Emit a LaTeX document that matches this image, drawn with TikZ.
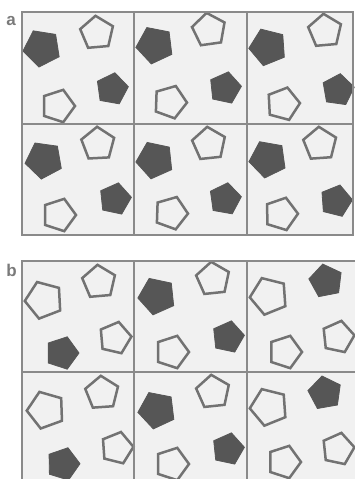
\documentclass[tikz,border=0pt]{standalone}
\usepackage{fontspec}
\newfontfamily\labfont{Liberation Sans}
\usetikzlibrary{shapes.geometric}
\definecolor{bgc}{HTML}{F1F1F1}
\definecolor{gridc}{HTML}{8A8A8A}
\definecolor{fillc}{HTML}{565656}
\definecolor{outc}{HTML}{727272}
\definecolor{labc}{HTML}{7A7A7A}
\tikzset{
  pent/.style={regular polygon, regular polygon sides=5, inner sep=0pt, outer sep=0pt},
  fp/.style={pent, fill=fillc, draw=fillc, line width=0.8pt},
  op/.style={pent, draw=outc, line width=2.5pt, fill=bgc},
  grid/.style={draw=gridc, line width=2pt},
  lab/.style={anchor=base, text=labc, font=\labfont\bfseries\fontsize{17}{17}\selectfont, inner sep=0pt},
  L/.style={minimum size=38.5pt},
  T/.style={minimum size=34.5pt},
  R/.style={minimum size=33pt},
  B/.style={minimum size=34pt}
}
\begin{document}
\begin{tikzpicture}[x=1pt,y=-1pt]
\useasboundingbox (0,0) rectangle (355,479);
\clip (0,0) rectangle (355,479);
% panel backgrounds
\fill[bgc] (22,12) rectangle (353,235);
\fill[bgc] (22,260.5) rectangle (362,490);
% labels
\node[lab] (la) at (11,25) {a};
\node[lab] (lb) at (11.5,276) {b};
% panel a pentagons
\node[fp,L,shape border rotate=27] (a1l) at (42,48) {};
\node[op,T,shape border rotate=5] (a1t) at (97,33) {};
\node[fp,R,shape border rotate=-10] (a1r) at (112,89) {};
\node[op,B,shape border rotate=-18] (a1b) at (58,106) {};
\node[fp,L,shape border rotate=25] (a2l) at (155,45) {};
\node[op,T,shape border rotate=8] (a2t) at (209,30) {};
\node[fp,R,shape border rotate=-12] (a2r) at (225,88) {};
\node[op,B,shape border rotate=-20] (a2b) at (170,102) {};
\node[fp,L,shape border rotate=22] (a3l) at (268,47) {};
\node[op,T,shape border rotate=5] (a3t) at (325,31) {};
\node[fp,R,shape border rotate=-8] (a3r) at (338,90) {};
\node[op,B,shape border rotate=-15] (a3b) at (283,104) {};
\node[fp,L,shape border rotate=28] (a4l) at (44,160) {};
\node[op,T,shape border rotate=3] (a4t) at (98,144) {};
\node[fp,R,shape border rotate=-12] (a4r) at (115,199) {};
\node[op,B,shape border rotate=-18] (a4b) at (59,215) {};
\node[fp,L,shape border rotate=24] (a5l) at (155,160) {};
\node[op,T,shape border rotate=6] (a5t) at (209,144) {};
\node[fp,R,shape border rotate=-10] (a5r) at (225,199) {};
\node[op,B,shape border rotate=-20] (a5b) at (171,213) {};
\node[fp,L,shape border rotate=26] (a6l) at (268,159) {};
\node[op,T,shape border rotate=4] (a6t) at (320,144) {};
\node[fp,R,shape border rotate=-14] (a6r) at (336,201) {};
\node[op,B,shape border rotate=-17] (a6b) at (281,214) {};
% panel b pentagons
\node[op,L,shape border rotate=21] (b1l) at (44,300) {};
\node[op,T,shape border rotate=5] (b1t) at (99,282) {};
\node[op,R,shape border rotate=-13] (b1r) at (115,338) {};
\node[fp,B,shape border rotate=-18] (b1b) at (62,353) {};
\node[fp,L,shape border rotate=24] (b2l) at (157,296) {};
\node[op,T,shape border rotate=6] (b2t) at (213,279) {};
\node[fp,R,shape border rotate=-12] (b2r) at (228,337) {};
\node[op,B,shape border rotate=-18] (b2b) at (172,352) {};
\node[op,L,shape border rotate=22] (b3l) at (269,296) {};
\node[fp,T,shape border rotate=11] (b3t) at (326,281) {};
\node[op,R,shape border rotate=-12] (b3r) at (338,337) {};
\node[op,B,shape border rotate=-18] (b3b) at (285,352) {};
\node[op,L,shape border rotate=20] (b4l) at (46,410) {};
\node[op,T,shape border rotate=4] (b4t) at (102,393) {};
\node[op,R,shape border rotate=-14] (b4r) at (117,448) {};
\node[fp,B,shape border rotate=-17] (b4b) at (63,464) {};
\node[fp,L,shape border rotate=25] (b5l) at (157,410) {};
\node[op,T,shape border rotate=6] (b5t) at (213,392) {};
\node[fp,R,shape border rotate=-12] (b5r) at (228,449) {};
\node[op,B,shape border rotate=-18] (b5b) at (172,464) {};
\node[op,L,shape border rotate=22] (b6l) at (269,407) {};
\node[fp,T,shape border rotate=10] (b6t) at (325,393) {};
\node[op,R,shape border rotate=-12] (b6r) at (338,449) {};
\node[op,B,shape border rotate=-18] (b6b) at (284,462) {};
% grids
\draw[grid] (22,12) rectangle (353,235);
\draw[grid] (134,12) -- (134,235) (247,12) -- (247,235) (22,124) -- (353,124);
\draw[grid] (22,260.5) rectangle (362,490);
\draw[grid] (134,260.5) -- (134,490) (247,260.5) -- (247,490) (22,372) -- (362,372);
\end{tikzpicture}
\end{document}
